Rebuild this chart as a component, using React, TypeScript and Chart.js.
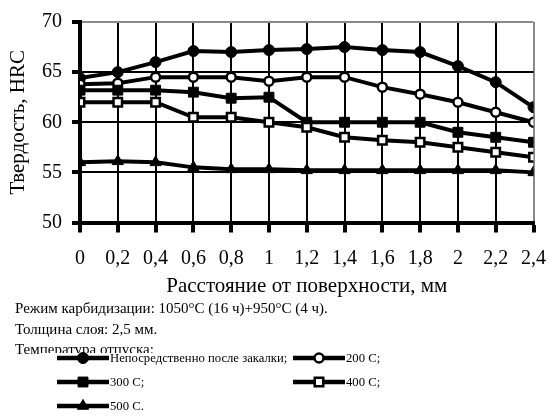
import React, { useEffect, useRef } from "react";
import { Chart, registerables } from "chart.js";

Chart.register(...registerables);

const distances = [0, 0.2, 0.4, 0.6, 0.8, 1.0, 1.2, 1.4, 1.6, 1.8, 2.0, 2.2, 2.4];
const asQuenched = [64.4, 65.0, 66.0, 67.1, 67.0, 67.2, 67.3, 67.5, 67.2, 67.0, 65.6, 64.0, 61.5];
const temper200 = [63.8, 63.9, 64.5, 64.5, 64.5, 64.1, 64.5, 64.5, 63.5, 62.8, 62.0, 61.0, 60.0];
const temper300 = [63.2, 63.2, 63.2, 63.0, 62.4, 62.5, 60.0, 60.0, 60.0, 60.0, 59.0, 58.5, 58.0];
const temper400 = [62.0, 62.0, 62.0, 60.5, 60.5, 60.0, 59.5, 58.5, 58.2, 58.0, 57.5, 57.0, 56.5];
const temper500 = [56.0, 56.1, 56.0, 55.5, 55.3, 55.3, 55.2, 55.2, 55.2, 55.2, 55.2, 55.2, 55.0];

const seriesLabels = [
  "Непосредственно после закалки;",
  "200 С;",
  "300 С;",
  "400 С;",
  "500 С.",
];
const yTitle = "Твердость, HRC";
const xTitle = "Расстояние от поверхности, мм";
const notes = [
  "Режим карбидизации: 1050°С (16 ч)+950°С (4 ч).",
  "Толщина слоя: 2,5 мм.",
  "Температура отпуска:",
];

const FONT = '"Liberation Serif", "Times New Roman", serif';

type Style = { pointStyle: string; fill: string; radius: number; bw: number };
const styles: Style[] = [
  { pointStyle: "circle", fill: "#000", radius: 5.5, bw: 1 },
  { pointStyle: "circle", fill: "#fff", radius: 4.5, bw: 2.5 },
  { pointStyle: "rect", fill: "#000", radius: 7, bw: 1 },
  { pointStyle: "rect", fill: "#fff", radius: 6, bw: 2.5 },
  { pointStyle: "triangle", fill: "#000", radius: 6.5, bw: 1 },
];

function drawMarker(ctx: CanvasRenderingContext2D, s: Style, x: number, y: number) {
  ctx.beginPath();
  if (s.pointStyle === "circle") {
    ctx.arc(x, y, s.radius, 0, Math.PI * 2);
  } else if (s.pointStyle === "rect") {
    const h = s.radius * Math.SQRT1_2;
    ctx.rect(x - h, y - h, 2 * h, 2 * h);
  } else {
    const r = s.radius;
    ctx.moveTo(x, y - r);
    ctx.lineTo(x + r * Math.sin(Math.PI / 3), y + r / 2);
    ctx.lineTo(x - r * Math.sin(Math.PI / 3), y + r / 2);
    ctx.closePath();
  }
  ctx.fillStyle = s.fill;
  ctx.fill();
  ctx.lineWidth = s.bw;
  ctx.strokeStyle = "#000";
  ctx.stroke();
}

const notesLegend = {
  id: "notesLegend",
  afterDraw(chart: any) {
    const ctx: CanvasRenderingContext2D = chart.ctx;
    ctx.save();
    ctx.fillStyle = "#000";
    ctx.font = `15px ${FONT}`;
    ctx.textBaseline = "middle";
    ctx.textAlign = "left";
    const noteY = [309, 330, 350];
    notes.forEach((t, i) => ctx.fillText(t, 15, noteY[i]));
    ctx.fillStyle = "#fff";
    ctx.fillRect(40, 353, 420, 65);
    const pos = [
      [57, 358],
      [293, 358],
      [57, 382],
      [293, 382],
      [57, 406],
    ];
    seriesLabels.forEach((label, i) => {
      const [x0, y] = pos[i];
      ctx.beginPath();
      ctx.moveTo(x0, y);
      ctx.lineTo(x0 + 52, y);
      ctx.lineWidth = 4.5;
      ctx.strokeStyle = "#000";
      ctx.stroke();
      drawMarker(ctx, styles[i], x0 + 26, y);
      ctx.fillStyle = "#000";
      ctx.font = `12.7px ${FONT}`;
      ctx.textBaseline = "middle";
      ctx.fillText(label, x0 + 53, y + 0.5);
    });
    ctx.restore();
  },
};

export default function App() {
  const ref = useRef<HTMLCanvasElement>(null);
  useEffect(() => {
    if (!ref.current) return;
    const all = [asQuenched, temper200, temper300, temper400, temper500];
    const datasets = all.map((vals, i) => ({
      label: seriesLabels[i],
      data: distances.map((d, j) => ({ x: d, y: vals[j] })),
      borderColor: "#000",
      borderWidth: 4,
      pointStyle: styles[i].pointStyle,
      pointRadius: styles[i].radius,
      pointBackgroundColor: styles[i].fill,
      pointBorderColor: "#000",
      pointBorderWidth: styles[i].bw,
      tension: 0,
      fill: false,
    }));
    const chart = new Chart(ref.current, {
      type: "line",
      data: { datasets: datasets.reverse() as any },
      plugins: [notesLegend],
      options: {
        animation: false,
        responsive: false,
        layout: { padding: { left: 0, top: 19.5, right: 15, bottom: 113.5 } },
        plugins: { legend: { display: false }, tooltip: { enabled: false } },
        scales: {
          x: {
            type: "linear",
            min: 0,
            max: 2.4,
            afterFit: (s: any) => {
              s.height = 82;
            },
            ticks: {
              stepSize: 0.2,
              color: "#000",
              padding: 14,
              maxRotation: 0,
              autoSkip: false,
              font: { family: FONT, size: 20 },
              callback: (v: any) => String(Math.round(Number(v) * 10) / 10).replace(".", ","),
            },
            grid: {
              color: (c: any) => (c.index === 12 ? "#8a8a8a" : "#000"),
              lineWidth: 2,
              drawTicks: true,
              tickLength: 10,
              tickWidth: 4,
              tickColor: "#000",
            },
            border: { display: true, color: "#000", width: 4 },
            title: {
              display: true,
              text: xTitle,
              color: "#000",
              font: { family: FONT, size: 21 },
              padding: { top: 0, bottom: 5 },
            },
          },
          y: {
            min: 50,
            max: 70,
            afterFit: (s: any) => {
              s.width = 80;
            },
            ticks: {
              stepSize: 5,
              color: "#000",
              padding: 10,
              font: { family: FONT, size: 20 },
            },
            grid: {
              color: (c: any) => (c.tick && c.tick.value === 70 ? "#8a8a8a" : "#000"),
              lineWidth: 2,
              drawTicks: true,
              tickLength: 8,
              tickWidth: 4,
              tickColor: "#000",
            },
            border: { display: true, color: "#000", width: 4 },
            title: {
              display: true,
              text: yTitle,
              color: "#000",
              font: { family: FONT, size: 21 },
              padding: { top: 6, bottom: 0 },
            },
          },
        },
      },
    });
    return () => chart.destroy();
  }, []);
  return (
    <div style={{ position: "absolute", left: 0, top: 0, width: 560, height: 418, background: "#fff" }}>
      <canvas ref={ref} width={560} height={418} style={{ width: 560, height: 418, display: "block" }} />
    </div>
  );
}
